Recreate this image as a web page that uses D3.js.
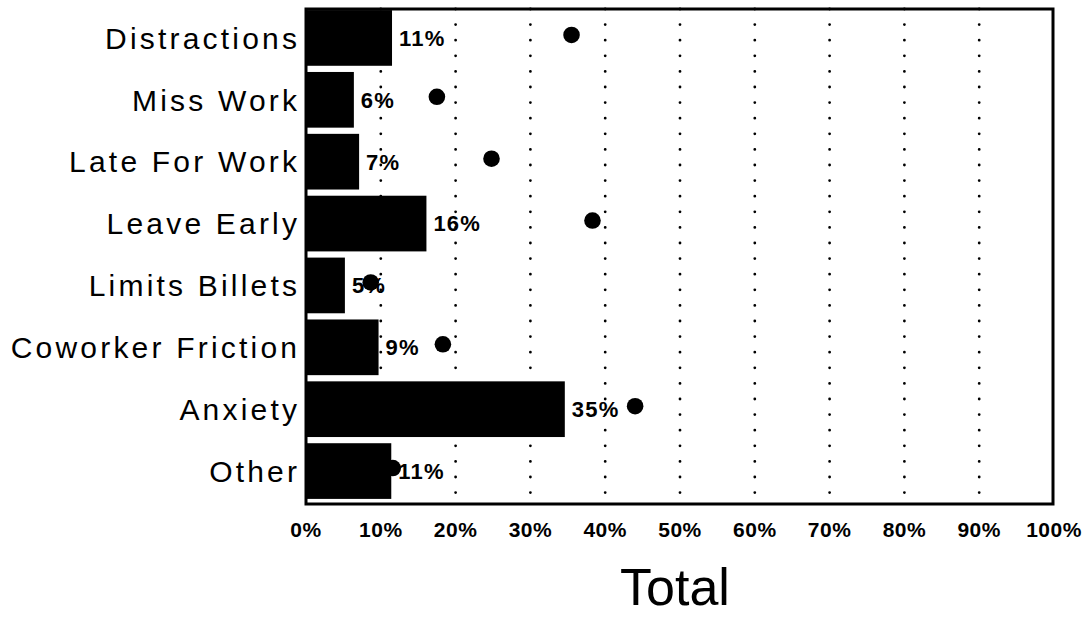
<!DOCTYPE html>
<html>
<head>
<meta charset="utf-8">
<script src="https://cdn.jsdelivr.net/npm/d3@7"></script>
<style>
  html, body { margin: 0; padding: 0; background: #fff; }
  svg { display: block; }
</style>
</head>
<body>
<svg id="chart" width="1087" height="618"></svg>
<script>
// ---- data ----
const categories = ["Distractions", "Miss Work", "Late For Work", "Leave Early",
                    "Limits Billets", "Coworker Friction", "Anxiety", "Other"];
const barValues = [11.5, 6.4, 7.1, 16.1, 5.2, 9.7, 34.6, 11.4];
const barLabels = ["11%", "6%", "7%", "16%", "5%", "9%", "35%", "11%"];
const dotValues = [35.5, 17.5, 24.8, 38.3, 8.65, 18.3, 44.0, 11.6];
const tickValues = [0, 10, 20, 30, 40, 50, 60, 70, 80, 90, 100];
const tickLabels = ["0%", "10%", "20%", "30%", "40%", "50%", "60%", "70%", "80%", "90%", "100%"];
const axisTitle = "Total";

// ---- layout ----
const frameTop = 9, frameBottom = 504;
const font = "'Liberation Sans', Arial, Helvetica, sans-serif";

const svg = d3.select("#chart");

const x = d3.scaleLinear().domain([0, 100]).range([306, 1054]);
const y = d3.scaleBand().domain(categories).range([7, 502])
  .paddingInner(0.1).paddingOuter(0.05);

const rows = categories.map((c, i) => ({
  cat: c, bar: barValues[i], label: barLabels[i], dot: dotValues[i]
}));

// gridlines (dotted)
svg.append("g").selectAll("line")
  .data(tickValues.filter(v => v > 0 && v < 100))
  .join("line")
  .attr("x1", d => x(d)).attr("x2", d => x(d))
  .attr("y1", frameTop).attr("y2", frameBottom)
  .attr("stroke", "#000")
  .attr("stroke-width", 2.8)
  .attr("stroke-linecap", "round")
  .attr("stroke-dasharray", "0,15.6");

// bars
svg.append("g").selectAll("rect")
  .data(rows)
  .join("rect")
  .attr("x", x(0))
  .attr("y", d => y(d.cat))
  .attr("width", d => x(d.bar) - x(0))
  .attr("height", y.bandwidth())
  .attr("fill", "#000");

// frame
svg.append("rect")
  .attr("x", x(0)).attr("y", frameTop)
  .attr("width", x(100) - x(0) - 1).attr("height", frameBottom - frameTop)
  .attr("fill", "none").attr("stroke", "#000").attr("stroke-width", 3);

// bar value labels
svg.append("g").selectAll("text")
  .data(rows)
  .join("text")
  .attr("x", d => x(d.bar) + 7)
  .attr("y", d => y(d.cat) + y.bandwidth() / 2)
  .attr("dy", "0.36em")
  .attr("font-family", font)
  .attr("font-weight", "bold")
  .attr("font-size", 22)
  .attr("letter-spacing", 1.2)
  .attr("fill", "#000")
  .text(d => d.label);

// dots
svg.append("g").selectAll("circle")
  .data(rows)
  .join("circle")
  .attr("cx", d => x(d.dot))
  .attr("cy", d => y(d.cat) + y.bandwidth() / 2 - 3)
  .attr("r", 8.3)
  .attr("fill", "#000");

// category labels
const ls = 3.2;
svg.append("g").selectAll("text")
  .data(categories)
  .join("text")
  .attr("x", x(0) - 9 + ls)
  .attr("y", d => y(d) + y.bandwidth() / 2)
  .attr("dy", "0.36em")
  .attr("text-anchor", "end")
  .attr("font-family", font)
  .attr("font-size", 30)
  .attr("letter-spacing", ls)
  .attr("fill", "#000")
  .text(d => d);

// x tick labels
svg.append("g").selectAll("text")
  .data(tickValues)
  .join("text")
  .attr("x", (d) => x(d))
  .attr("y", 537)
  .attr("text-anchor", "middle")
  .attr("font-family", font)
  .attr("font-weight", "bold")
  .attr("font-size", 21)
  .attr("letter-spacing", 0.5)
  .attr("fill", "#000")
  .text((d, i) => tickLabels[i]);

// axis title
svg.append("text")
  .attr("x", 675)
  .attr("y", 605)
  .attr("text-anchor", "middle")
  .attr("font-family", font)
  .attr("font-size", 52)
  .attr("fill", "#000")
  .text(axisTitle);
</script>
</body>
</html>
